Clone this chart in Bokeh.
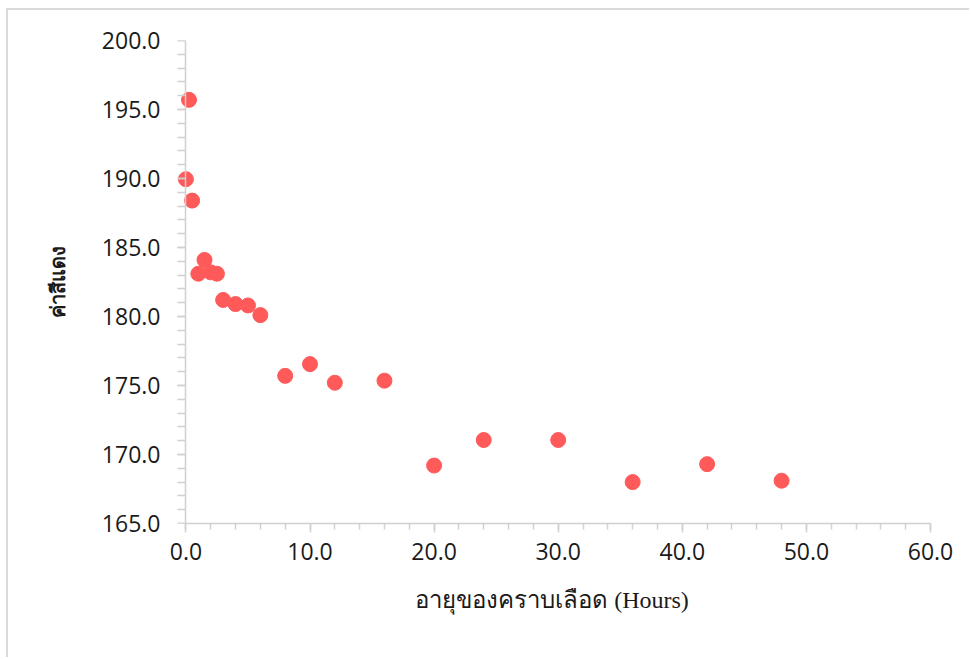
from bokeh.plotting import figure
from bokeh.models import ColumnDataSource, NumeralTickFormatter, FixedTicker, LinearAxis
from bokeh.embed import file_html
from bokeh.resources import INLINE

hours = [0.25, 0.0, 0.5, 1.0, 1.5, 2.0, 2.5, 3.0, 4.0, 5.0, 6.0, 8.0, 10.0, 12.0, 16.0,
         20.0, 24.0, 30.0, 36.0, 42.0, 48.0]
red_value = [195.7, 189.95, 188.4, 183.1, 184.1, 183.2, 183.1, 181.2, 180.9, 180.8, 180.1,
             175.7, 176.55, 175.2, 175.35, 169.2, 171.05, 171.05, 168.0, 169.3, 168.1]
x_ticks = [0, 10, 20, 30, 40, 50, 60]
y_ticks = [165, 170, 175, 180, 185, 190, 195, 200]
x_minor = [v for v in range(0, 61, 2)]
y_minor = [v for v in range(165, 201)]

src = ColumnDataSource(dict(x=hours, y=red_value))

p = figure(width=963, height=649, output_backend="svg", toolbar_location=None,
           x_range=(-1, 60), y_range=(165, 200),
           min_border_left=165, min_border_right=41, min_border_top=30, min_border_bottom=136)
p.styles = {"border-left": "2px solid #d9d9d9", "border-top": "2px solid #d9d9d9",
            "margin-left": "6px", "margin-top": "8px"}
p.outline_line_color = None
p.grid.visible = False

p.scatter("x", "y", source=src, size=15, color="#ff5a5a", line_color="#ff5a5a")

axis_col = "#d0d0d0"
for ax in (p.xaxis[0], p.yaxis[0]):
    ax.axis_line_color = axis_col
    ax.axis_line_width = 1.5
    ax.major_tick_line_color = axis_col
    ax.minor_tick_line_color = axis_col
    ax.major_tick_line_width = 1.5
    ax.minor_tick_line_width = 1.5
    ax.major_tick_in = 0
    ax.minor_tick_in = 0
    ax.major_label_text_font = "Open Sans"
    ax.major_label_text_font_size = "23px"
    ax.major_label_text_color = "#1a1a1a"
    ax.formatter = NumeralTickFormatter(format="0.0")

p.xaxis[0].bounds = (0, 60)
p.xaxis[0].ticker = FixedTicker(ticks=x_ticks, minor_ticks=x_minor)
p.xaxis[0].major_tick_out = 9
p.xaxis[0].minor_tick_out = 6
p.xaxis[0].major_label_standoff = 10

# y axis in the left panel: labels only
ya = p.yaxis[0]
ya.ticker = FixedTicker(ticks=y_ticks, minor_ticks=y_minor)
ya.axis_line_color = None
ya.major_tick_line_color = None
ya.minor_tick_line_color = None
ya.major_tick_out = 0
ya.minor_tick_out = 0
ya.major_label_standoff = 13

# y axis line and ticks drawn at x = 0
yline = LinearAxis(fixed_location=0, ticker=FixedTicker(ticks=y_ticks, minor_ticks=y_minor),
                   axis_line_color=axis_col, axis_line_width=1.5,
                   major_tick_line_color=axis_col, minor_tick_line_color=axis_col,
                   major_tick_line_width=1.5, minor_tick_line_width=1.5,
                   major_tick_in=0, minor_tick_in=0, major_tick_out=8, minor_tick_out=8,
                   major_label_text_color=None, major_label_text_font_size="1px",
                   major_label_standoff=0)
p.add_layout(yline, "left")

p.xaxis[0].axis_label = "อายุของคราบเลือด (Hours)"
p.xaxis[0].axis_label_text_font = "Liberation Serif"
p.xaxis[0].axis_label_text_font_style = "normal"
p.xaxis[0].axis_label_text_font_size = "24px"
p.xaxis[0].axis_label_text_color = "#1a1a1a"
p.xaxis[0].axis_label_standoff = 24

ya.axis_label = "ค่าสีแดง"
ya.axis_label_text_font = "Noto Sans"
ya.axis_label_text_font_style = "bold"
ya.axis_label_text_font_size = "20px"
ya.axis_label_text_color = "#1a1a1a"
ya.axis_label_standoff = 28

open("out.html", "w").write(file_html(p, INLINE))
